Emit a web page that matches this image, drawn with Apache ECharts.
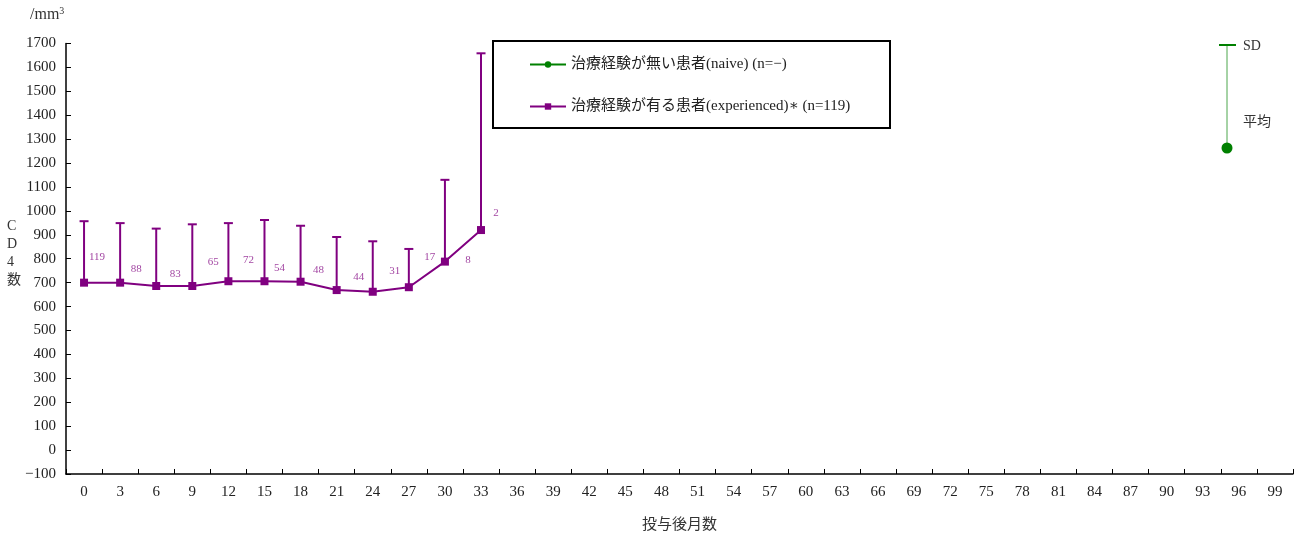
<!DOCTYPE html>
<html>
<head>
<meta charset="utf-8">
<script src="https://cdn.jsdelivr.net/npm/echarts@6/dist/echarts.min.js"></script>
<style>
  html, body { margin: 0; padding: 0; background: #fff; }
  #chart { width: 1306px; height: 538px; }
</style>
</head>
<body>
<div id="chart"></div>
<script>
// Months after dosing (x-axis categories)
const months = [];
for (let m = 0; m <= 99; m += 3) months.push(String(m));

// CD4 count (/mm3) for treatment-experienced patients
const experiencedMean = [700, 700, 686, 686, 706, 706, 704, 669, 662, 681, 788, 920];
const experiencedSD   = [257, 249, 240, 258, 243, 256, 234, 222, 211, 160, 342, 739];
const experiencedN    = [119, 88, 83, 65, 72, 54, 48, 44, 31, 17, 8, 2];

// Treatment-naive patients: no data
const naiveMean = [];

// Y-axis range
const yMin = -100, yMax = 1700, yStep = 100;

// Per-point nudges for the n labels so they sit clear of the bars
const nLabelNudge = [[13,-26],[16,-14],[19,-12],[21,-24],[20,-21],[15,-13],[18,-12],[22,-13],[22,-21],[21,-30],[23,-2],[15,-17]];

const SERIF = "'Liberation Serif', 'DejaVu Serif', 'Noto Sans CJK JP', serif";
const PURPLE = '#800080';
const GREEN = '#008000';

const chart = echarts.init(document.getElementById('chart'), null, { renderer: 'canvas' });

const lineData = experiencedMean.map((v, i) => ({
  value: v,
  label: { offset: nLabelNudge[i] }
}));

const barData = experiencedMean.map((v, i) => [i, v, v + experiencedSD[i]]);

chart.setOption({
  backgroundColor: '#fff',
  animation: false,
  grid: { left: 66, right: 13, top: 43.5, bottom: 64, containLabel: false },
  legend: {
    left: 524, top: 52,
    orient: 'vertical',
    itemGap: 27,
    itemWidth: 36, itemHeight: 8,
    textStyle: { fontFamily: SERIF, fontSize: 15, color: '#222' },
    data: [
      { name: '治療経験が無い患者(naive) (n=−)' },
      { name: '治療経験が有る患者(experienced)∗ (n=119)' }
    ]
  },
  xAxis: {
    type: 'category',
    data: months,
    boundaryGap: true,
    name: '投与後月数',
    nameLocation: 'middle',
    nameGap: 44,
    nameTextStyle: { fontFamily: SERIF, fontSize: 15, color: '#333' },
    axisLine: { onZero: false, lineStyle: { color: '#000', width: 1.5 } },
    axisTick: { show: true, inside: true, length: 5, lineStyle: { color: '#000' } },
    axisLabel: { fontFamily: SERIF, fontSize: 15, color: '#222', margin: 11 },
    splitLine: { show: false }
  },
  yAxis: {
    type: 'value',
    min: yMin, max: yMax, interval: yStep,
    axisLine: { show: true, lineStyle: { color: '#000', width: 1.5 } },
    axisTick: { show: true, inside: true, length: 5, lineStyle: { color: '#000' } },
    axisLabel: { fontFamily: SERIF, fontSize: 15, color: '#222', margin: 10,
      formatter: v => (v < 0 ? '−' + Math.abs(v) : String(v)) },
    splitLine: { show: false }
  },
  series: [
    {
      name: '治療経験が無い患者(naive) (n=−)',
      type: 'line',
      data: naiveMean,
      symbol: 'circle', symbolSize: 8,
      itemStyle: { color: GREEN },
      lineStyle: { color: GREEN, width: 2 }
    },
    {
      name: 'sd-bars',
      type: 'custom',
      data: barData,
      z: 1,
      renderItem: (params, api) => {
        const lo = api.coord([api.value(0), api.value(1)]);
        const hi = api.coord([api.value(0), api.value(2)]);
        const cap = 4.5;
        return {
          type: 'group',
          children: [
            { type: 'line', shape: { x1: lo[0], y1: lo[1], x2: hi[0], y2: hi[1] },
              style: { stroke: PURPLE, lineWidth: 2 } },
            { type: 'line', shape: { x1: hi[0] - cap, y1: hi[1], x2: hi[0] + cap, y2: hi[1] },
              style: { stroke: PURPLE, lineWidth: 2 } }
          ]
        };
      }
    },
    {
      name: '治療経験が有る患者(experienced)∗ (n=119)',
      type: 'line',
      data: lineData,
      z: 3,
      symbol: 'rect', symbolSize: 8,
      itemStyle: { color: PURPLE },
      lineStyle: { color: PURPLE, width: 2 },
      label: {
        show: true,
        position: 'inside',
        formatter: p => String(experiencedN[p.dataIndex]),
        fontFamily: SERIF, fontSize: 11, color: '#a347a3'
      }
    }
  ],
  graphic: [
    // legend frame
    { type: 'rect', x: 493, y: 41, shape: { x: 0, y: 0, width: 397, height: 87 },
      style: { fill: 'none', stroke: '#000', lineWidth: 2 }, z: 10 },
    // unit
    { type: 'text', x: 30, y: 15,
      style: { text: '/mm{s|3}', fontFamily: SERIF, fontSize: 16, fill: '#333', verticalAlign: 'middle',
        rich: { s: { fontSize: 10, verticalAlign: 'top', padding: [0, 0, 8, 0], fontFamily: SERIF, fill: '#333' } } } },
    // y-axis title
    { type: 'text', left: 7, top: 217,
      style: { text: 'C\nD\n4\n数', fontFamily: SERIF, fontSize: 14, lineHeight: 18, align: 'center', fill: '#333', width: 14 } },
    // SD / mean key
    { type: 'line', shape: { x1: 1227, y1: 45, x2: 1227, y2: 148 }, style: { stroke: GREEN, lineWidth: 1, opacity: 0.7 } },
    { type: 'line', shape: { x1: 1219, y1: 45, x2: 1236, y2: 45 }, style: { stroke: GREEN, lineWidth: 2 } },
    { type: 'circle', shape: { cx: 1227, cy: 148, r: 5.5 }, style: { fill: GREEN } },
    { type: 'text', x: 1243, y: 46, style: { text: 'SD', fontFamily: SERIF, fontSize: 14, fill: '#333', verticalAlign: 'middle' } },
    { type: 'text', x: 1243, y: 122, style: { text: '平均', fontFamily: SERIF, fontSize: 14, fill: '#333', verticalAlign: 'middle' } }
  ]
});
</script>
</body>
</html>
